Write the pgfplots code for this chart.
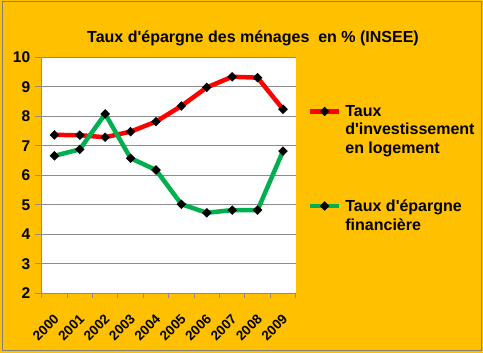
\documentclass[border=0pt]{standalone}
\usepackage{pgfplots}
\pgfplotsset{compat=1.18}
\usepackage{fontspec}
\setmainfont{Liberation Sans}[Ligatures=TeXOff]
\definecolor{bgyellow}{HTML}{FFC000}
\definecolor{redline}{HTML}{FF0000}
\definecolor{greenline}{HTML}{00B050}
\definecolor{gridgray}{HTML}{8C8C8C}
\begin{document}
\begin{tikzpicture}
\fill[bgyellow] (0,0) rectangle (483bp,353bp);
\draw[gray, line width=1bp] (2bp,2bp) rectangle (481bp,351bp);
\begin{axis}[
  at={(41.7bp,59.7bp)}, anchor=south west,
  scale only axis, width=254bp, height=236bp,
  xmin=-0.5, xmax=9.5, ymin=2, ymax=10,
  axis x line*=bottom, axis y line*=left,
  axis line style={gridgray, line width=0.8bp},
  axis background/.style={fill=white},
  xtick={0,...,9},
  xticklabels={2000,2001,2002,2003,2004,2005,2006,2007,2008,2009},
  minor xtick={-0.5,0.5,...,9.5},
  x tick style={draw=none},
  minor x tick style={draw=gridgray, line width=0.8bp},
  ytick={2,...,10},
  y tick style={gridgray, line width=0.8bp},
  tick align=outside,
  major tick length=7bp, minor tick length=5bp,
  ymajorgrids, grid style={gridgray, line width=0.8bp},
  /pgf/number format/assume math mode=true,
  yticklabel style={font=\fontsize{15.5bp}{18bp}\selectfont\bfseries, xshift=-1bp},
  xticklabel style={font=\fontsize{13.5bp}{16bp}\selectfont\bfseries, xshift=4.5bp, yshift=-14bp, rotate=45, anchor=east},
  title={Taux d'épargne des ménages\ \ en \% (INSEE)},
  title style={font=\fontsize{16bp}{19bp}\selectfont\bfseries, at={(0.832,1.057)}, anchor=center},
  legend style={at={(1.048,0.796)}, anchor=north west, draw=none, fill=none,
    inner sep=0pt, outer sep=0pt,
    font=\fontsize{16bp}{18.5bp}\selectfont\bfseries,
    nodes={inner sep=0pt, align=left, anchor=north west},
    row sep=45bp, column sep=4bp},
  legend cell align=left,
  legend image code/.code={
    \draw[#1, line width=4.5bp] (0bp,-6bp) -- (29bp,-6bp);
    \fill[black] (14.5bp,-6bp) circle (1.6bp);
  },
]
\addplot[redline, line width=4.5bp, mark=*, mark size=1.6bp, mark options={fill=black, draw=black}]
  coordinates {(0,7.37) (1,7.36) (2,7.29) (3,7.48) (4,7.82) (5,8.35) (6,8.98) (7,9.34) (8,9.31) (9,8.24)};
\addlegendentry{Taux\\d'investissement\\en logement}
\addplot[greenline, line width=4.5bp, mark=*, mark size=1.6bp, mark options={fill=black, draw=black}]
  coordinates {(0,6.66) (1,6.88) (2,8.08) (3,6.58) (4,6.18) (5,5.02) (6,4.73) (7,4.82) (8,4.82) (9,6.82)};
\addlegendentry{Taux d'épargne\\financière}
\end{axis}
\end{tikzpicture}
\end{document}
